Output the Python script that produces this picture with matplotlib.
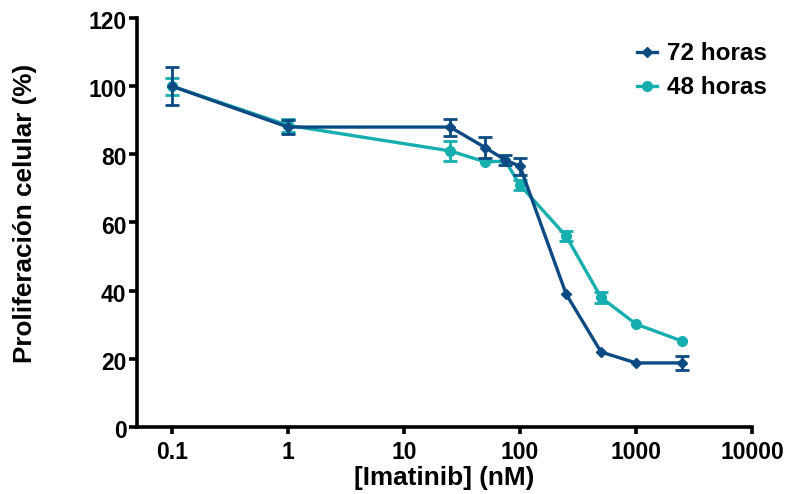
import numpy as np
import matplotlib.pyplot as plt
from matplotlib.lines import Line2D
from matplotlib.transforms import ScaledTranslation

plt.rcParams['font.family'] = ['Liberation Sans', 'DejaVu Sans']
plt.rcParams['font.weight'] = 'bold'

dosis = [0.1, 1, 25, 50, 75, 100, 250, 500, 1000, 2500]

# nan = error bar hidden behind the marker in the original
h72 = [100, 88, 88, 82, 78.3, 76.5, 39, 22, 18.8, 18.8]
h72_err = [5.6, 2.0, 2.5, 3.0, 1.5, 2.5, np.nan, np.nan, np.nan, 2.0]

h48 = [100, 88.5, 81, 77.8, 78, 71, 56, 38, 30.2, 25.2]
h48_err = [2.5, 2.0, 3.0, np.nan, np.nan, 1.5, 1.5, 1.5, np.nan, np.nan]

c72 = '#0b4a82'
c48 = '#17aeb0'

fig = plt.figure(figsize=(7.85, 4.94), dpi=100)
ax = fig.add_axes([0.1745, 0.1356, 0.7835, 0.828])

ax.errorbar(dosis, h48, yerr=h48_err, color=c48, marker='o', ms=7, lw=2.4,
            elinewidth=2, capsize=5, capthick=2, zorder=2)
ax.errorbar(dosis, h72, yerr=h72_err, color=c72, marker='D', ms=5, lw=2.4,
            elinewidth=2, capsize=5, capthick=2, zorder=3)

ax.set_xscale('log')
ax.set_xlim(0.05, 10000)
ax.set_ylim(0, 120)
ax.set_yticks([0, 20, 40, 60, 80, 100, 120])
ax.set_xticks([0.1, 1, 10, 100, 1000, 10000])
ax.set_xticklabels(['0.1', '1', '10', '100', '1000', '10000'])
ax.minorticks_off()

for s in ['top', 'right']:
    ax.spines[s].set_visible(False)
for s in ['left', 'bottom']:
    ax.spines[s].set_linewidth(2.6)
ax.tick_params(axis='y', width=2.6, length=6, labelsize=16.5, pad=1.5)
ax.tick_params(axis='x', width=2.6, length=5, labelsize=16.5, pad=5)
for t in ax.get_xticklabels() + ax.get_yticklabels():
    t.set_fontweight('bold')
shift = ScaledTranslation(0, -1.5 / 72, fig.dpi_scale_trans)
for t in ax.get_yticklabels():
    t.set_transform(t.get_transform() + shift)

ax.set_xlabel('[Imatinib] (nM)', fontsize=18.8, fontweight='bold')
ax.set_ylabel('Proliferación celular (%)', fontsize=18.8, fontweight='bold')
ax.xaxis.set_label_coords(0.5, -0.095)
ax.yaxis.set_label_coords(-0.163, 0.523)

handles = [Line2D([], [], color=c72, marker='D', ms=5, lw=2.4),
           Line2D([], [], color=c48, marker='o', ms=7, lw=2.4)]
leg = fig.legend(handles, ['72 horas', '48 horas'], loc='upper right',
                 bbox_to_anchor=(0.995, 0.944), frameon=False, fontsize=17.5,
                 handlelength=0.82, handletextpad=0.4, labelspacing=0.45,
                 borderaxespad=0.2)
for t in leg.get_texts():
    t.set_fontweight('bold')

fig.savefig('out.png', dpi=100)
